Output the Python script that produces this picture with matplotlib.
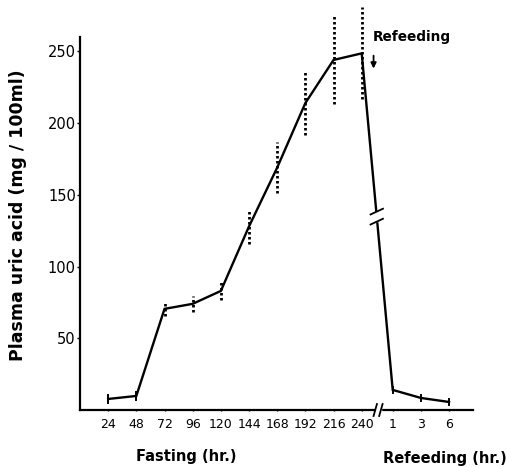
import matplotlib
matplotlib.use("Agg")
import matplotlib.pyplot as plt
import numpy as np

# ---- data ----
fasting_labels = ["24", "48", "72", "96", "120", "144", "168", "192", "216", "240"]
fasting_values = [7.7, 9.8, 70.5, 74, 83, 128, 169, 214, 244, 248.6]
fasting_err = [2.8, 2.8, 5, 5.6, 6.5, 12, 18, 22, 31, 32]
refeed_labels = ["1", "3", "6"]
refeed_values = [14, 8.4, 5.6]
refeed_err = [2, 2, 2]
y_ticks = [50, 100, 150, 200, 250]

W, H = 508, 467
fig = plt.figure(figsize=(W / 100, H / 100), dpi=100)
ax = fig.add_axes([80 / W, 1 - 410 / H, (473 - 80) / W, (410 - 37) / H])

font = "DejaVu Sans"
xf = np.arange(len(fasting_labels), dtype=float)
xr = len(fasting_labels) + 0.1 + np.arange(len(refeed_labels), dtype=float)
xs = np.concatenate([xf, xr])
ys = np.array(fasting_values + refeed_values)
es = np.array(fasting_err + refeed_err)

ax.plot(xs, ys, color="black", lw=1.7, solid_joinstyle="miter", zorder=3)
# dotted error bars
for x, y, e in zip(xs, ys, es):
    if e >= 5:
        ax.plot([x, x], [y - e, y + e], color="black", lw=2.0,
                linestyle=(0, (0.9, 0.9)), zorder=2, clip_on=False)
    else:
        ax.plot([x, x], [y - e, y + e], color="black", lw=1.4, zorder=2,
                clip_on=False)

ax.set_xlim(-1.0, 12.95)
ax.set_ylim(0, 260)
ax.set_xticks(xs)
ax.set_xticklabels(fasting_labels + refeed_labels, fontsize=9, family=font)
ax.set_yticks(y_ticks)
ax.set_yticklabels([str(v) for v in y_ticks], fontsize=10.5, family=font)
for s in ["top", "right"]:
    ax.spines[s].set_visible(False)
for s in ["left", "bottom"]:
    ax.spines[s].set_linewidth(1.6)
ax.tick_params(axis="x", length=2, width=1, pad=5, direction="inout")
ax.tick_params(axis="y", length=2, width=1, pad=1, direction="out")

# x-axis break marks
xb = (xf[-1] + xr[0]) / 2 + 0.03
trans = ax.get_xaxis_transform()
ax.add_patch(plt.Rectangle((xb - 0.09, -0.02), 0.18, 0.04, transform=trans,
                           color="white", zorder=5, clip_on=False))
for dx in (-0.1, 0.1):
    ax.plot([xb + dx - 0.06, xb + dx + 0.06], [-0.016, 0.016], transform=trans,
            color="black", lw=1.3, zorder=6, clip_on=False)

# break on the refeeding drop line
yb = 134.8
frac = (ys[len(xf) - 1] - yb) / (ys[len(xf) - 1] - ys[len(xf)])
xbl = xs[len(xf) - 1] + frac * (xs[len(xf)] - xs[len(xf) - 1])
ax.add_patch(plt.Rectangle((xbl - 0.2, yb - 3), 0.4, 6, color="white", zorder=5))
for dy in (-3.5, 3.5):
    ax.plot([xbl - 0.22, xbl + 0.22], [yb + dy - 2, yb + dy + 2],
            color="black", lw=1.3, zorder=6)

# annotation
fig.text(373 / W, 1 - 37 / H, "Refeeding", fontsize=9.8, fontweight="bold",
         family=font, ha="left", va="center")
ax.annotate("", xy=(xs[len(xf) - 1] + 0.42, 238), xytext=(xs[len(xf) - 1] + 0.42, 247),
            arrowprops=dict(arrowstyle="-|>", color="black", lw=1.3,
                            mutation_scale=8, shrinkA=0, shrinkB=0))

fig.text(18 / W, 1 - 215 / H, "Plasma uric acid (mg / 100ml)", rotation=90,
         fontsize=12.5, fontweight="bold", family=font, ha="center", va="center")
fig.text(186 / W, 1 - 457 / H, "Fasting (hr.)", fontsize=10.5, fontweight="bold",
         family=font, ha="center", va="center")
fig.text(445 / W, 1 - 458 / H, "Refeeding (hr.)", fontsize=10.5, fontweight="bold",
         family=font, ha="center", va="center")

fig.savefig("out.png", dpi=100)
